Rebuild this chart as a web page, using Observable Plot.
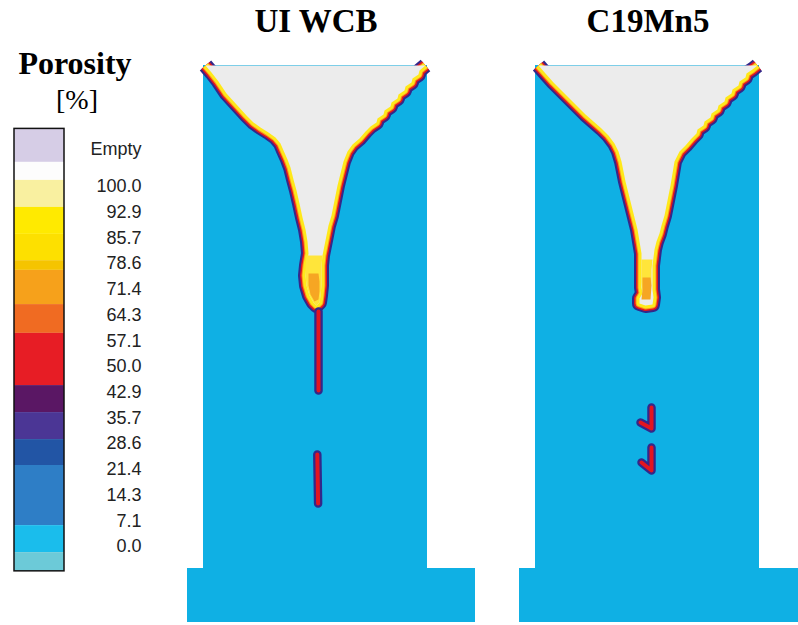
<!DOCTYPE html>
<html><head><meta charset="utf-8">
<script src="https://cdn.jsdelivr.net/npm/d3@7"></script>
<script src="https://cdn.jsdelivr.net/npm/@observablehq/plot@0.6"></script>
<style>
html,body{margin:0;padding:0;background:#fff;}
#fig{position:relative;width:798px;height:625px;overflow:hidden;background:#fff;}
.serif{font-family:"Liberation Serif","Times New Roman",serif;color:#000;text-align:center;white-space:nowrap;}
</style></head><body>
<div id="fig"></div>
<script>
// ---------- data ----------
const alloys = ["UI WCB", "C19Mn5"];
const legendTitle = "Porosity";
const legendUnit = "[%]";
const tickLabels = ["Empty","100.0","92.9","85.7","78.6","71.4","64.3","57.1","50.0","42.9","35.7","28.6","21.4","14.3","7.1","0.0"];
const tickValues = [110.3,100,92.9,85.7,78.6,71.4,64.3,57.1,50,42.9,35.7,28.6,21.4,14.3,7.1,0];
// legend colour bands (porosity %, top / bottom)
const bandTop    = [116,106.7,101.7,94.2,86.7,79.4,76.7,67.2,59.2,44.7,37.2,29.7,22.5,5.8,-1.7];
const bandBottom = [106.7,101.7,94.2,86.7,79.4,76.7,67.2,59.2,44.7,37.2,29.7,22.5,5.8,-1.7,-6.9];
const bandColors = ["#d6cde6","#fdfdfd","#f9f0a0","#ffea00","#fde000","#f5c400","#f6a11b","#f06b22","#e71d25","#5a1764","#4b3695","#2255a5","#2e7ec6","#1abdec","#6ccad8"];

// casting geometry (mm): riser body + base plate
const castingParts = [
  {x1: 0, x2: 112, y1: 0, y2: 251.5},
  {x1: -8, x2: 136, y1: 251.5, y2: 278.5}
];

// shrinkage cavity outlines [x mm, depth mm]
const cavityWCB = [
  [1,0],[4,3.5],[7.5,8],[11.5,14],[16.5,19.5],[21.5,25],[25,28.5],[28.5,31],[32.5,33.5],[36,36],[38.5,39],[40,42.5],[42,47],[43.5,51],[45,57],[46.5,62.5],[48,69],[49.5,76],[51,82],[52,88],[52.5,94],[51.5,100],[51,105],[51.5,110],[53,115],[55,118.5],[56.5,120],
  [58,118.5],[58.5,115],[59,110],[59,105],[59,100],[59.5,95],[60.5,90],[61.5,85],[62.5,80],[64,75],[65,70],[66,65],[67,60],[68.5,54],[70,48],[72,43],[74.5,39.5],[78,36.5],[81,33],[83.5,30.5],
  [86.5,28.5],[87,26.5],[90,24.5],[90.5,22.5],[93.5,20.5],[94,18.5],[97,16.5],[97.5,14.5],[100.5,12.5],[101,10.5],[104,8.5],[104.5,6.5],[107.5,4.5],[108,2.5],[111,0]
];
const cavityC19 = [
  [1.5,0],[5,4],[9,8.5],[13,12.5],[17,16.5],[21,20.5],[25,24.5],[29,28],[33,31.5],[36.5,35],[39.5,39],[41.5,43],[43,48],[44,53],[45,58],[46.5,64],[48,70],[49.5,76],[51,82],[52,88],[53,94],[53,100],[53,106],[53,111],[53.5,114],[52,116.5],[52,119],[55,120],[58.5,119.5],
  [59,116],[58.5,112],[58.5,108],[58.5,104],[58.5,100],[59,96],[59.5,92],[60.5,88],[62,84],[63,80],[64.5,75],[65.5,70],[66.5,65],[67.5,60],[68.5,54],[69.5,48],[72,43],[75,40],[78,36.5],
  [80.5,34],[81,32],[84,30],[84.5,28],[87.5,26],[88,24],[91,22],[91.5,20],[94.5,18],[95,16],[98,14],[98.5,12],[101.5,10],[102,8],[105,6],[105.5,4],[108.5,2],[111,0]
];
// partially filled neck at the bottom of the cavity
const neckYellowWCB = [[51.5,95],[51,100],[51,105],[51.5,110],[53,115],[55,118.5],[56.5,120],[58,118.5],[58.5,115],[59,110],[59,105],[59,100],[59.5,95]];
const neckOrangeWCB = [[52.5,104],[52.5,110],[53.5,114.5],[55.5,118],[57.5,117],[58,113],[58,108],[57.5,104]];
const neckYellowC19 = [[53,97],[53,102],[53,108],[53.5,113],[57.5,113],[58,108],[58,102],[58.5,97]];
const neckOrangeC19 = [[53.5,106],[53.5,112],[53,117],[57.5,117],[58,110],[57.5,106]];

// centre-line porosity defects [id, x mm, depth mm]
const defectsWCB = [
  {id: "a", x: 57.5, y: 123}, {id: "a", x: 57.5, y: 162.5},
  {id: "b", x: 56.9, y: 194.5}, {id: "b", x: 57.3, y: 219}
];
const defectsC19 = [
  {id: "a", x: 58, y: 171}, {id: "a", x: 58, y: 181.5}, {id: "a", x: 52.5, y: 178.5},
  {id: "b", x: 58, y: 191}, {id: "b", x: 58, y: 202.5}, {id: "b", x: 53, y: 198.5}
];

// ---------- styles ----------
const COL = {body: "#0fb0e4", empty: "#ececec", rimBlue: "#33288a", rimRed: "#e3151f", rimOrange: "#f7941d", rimYellow: "#ffe81a", neckYellow: "#ffe53a", neckOrange: "#f6a623"};
const PX_PER_MM = 2;
const fig = document.getElementById("fig");

function place(el, left, top) {
  el.style.position = "absolute";
  el.style.left = left + "px";
  el.style.top = top + "px";
  fig.appendChild(el);
}

// ---------- legend ----------
const bands = bandColors.map((c, i) => ({color: c, top: bandTop[i], bottom: bandBottom[i]}));
const ticks = tickLabels.map((t, i) => ({label: t, value: tickValues[i]}));
const legend = Plot.plot({
  width: 160, height: 460, margin: 0,
  style: {background: "transparent"},
  x: {domain: [0, 1], range: [14, 64], axis: null},
  y: {domain: [0, 100], range: [426, 66], axis: null},
  marks: [
    Plot.rect(bands, {x1: 0, x2: 1, y1: "bottom", y2: "top", fill: "color"}),
    Plot.rect([{lo: d3.min(bandBottom), hi: d3.max(bandTop)}], {x1: 0, x2: 1, y1: "lo", y2: "hi", fill: "none", stroke: "#111", strokeWidth: 1.5}),
    Plot.text(ticks, {x: 1, y: "value", text: "label", textAnchor: "end", dx: 77, fontSize: 18, fontFamily: "Liberation Sans, Arial, sans-serif", fill: "#222"})
  ]
});
place(legend, 0, 120);

const t1 = document.createElement("div");
t1.className = "serif";
t1.style.cssText = "font-weight:bold;font-size:32px;line-height:36px;width:150px;";
t1.textContent = legendTitle;
place(t1, 0, 45);
const t2 = document.createElement("div");
t2.className = "serif";
t2.style.cssText = "font-size:28px;line-height:32px;width:150px;";
t2.textContent = legendUnit;
place(t2, 2, 84);

// ---------- panels ----------
function panel(cavity, neckY, neckO, defects, width) {
  const xy = {x: d => d[0], y: d => d[1]};
  const rim = {strokeLinecap: "butt", strokeLinejoin: "round"};
  return Plot.plot({
    width, height: 575, margin: 0,
    style: {background: "transparent"},
    x: {domain: [-8, -8 + width / PX_PER_MM], range: [0, width], axis: null},
    y: {domain: [-7.5, 280], range: [0, 575], axis: null},
    marks: [
      Plot.rect(castingParts, {x1: "x1", x2: "x2", y1: "y1", y2: "y2", fill: COL.body}),
      Plot.line(cavity, {...xy, ...rim, stroke: COL.rimBlue, strokeWidth: 15}),
      Plot.line(cavity, {...xy, ...rim, stroke: COL.rimRed, strokeWidth: 11}),
      Plot.line(cavity, {...xy, ...rim, stroke: COL.rimOrange, strokeWidth: 8}),
      Plot.line(cavity, {...xy, ...rim, stroke: COL.rimYellow, strokeWidth: 6}),
      Plot.line(cavity, {...xy, fill: COL.empty, stroke: "none"}),
      Plot.line(neckY, {...xy, fill: COL.neckYellow, stroke: "none"}),
      Plot.line(neckO, {...xy, fill: COL.neckOrange, stroke: "none"}),
      Plot.line(defects, {x: "x", y: "y", z: "id", stroke: COL.rimBlue, strokeWidth: 8.5}),
      Plot.line(defects, {x: "x", y: "y", z: "id", stroke: COL.rimRed, strokeWidth: 4})
    ]
  });
}
const p1 = panel(cavityWCB, neckYellowWCB, neckOrangeWCB, defectsWCB, 333);
place(p1, 187, 50);
const p2 = panel(cavityC19, neckYellowC19, neckOrangeC19, defectsC19, 279);
place(p2, 519, 50);

// panel titles
[[alloys[0], 216], [alloys[1], 548]].forEach(([txt, left]) => {
  const d = document.createElement("div");
  d.className = "serif";
  d.style.cssText = "font-weight:bold;font-size:33px;line-height:36px;width:200px;";
  d.textContent = txt;
  place(d, left, 3);
});
</script>
</body></html>
